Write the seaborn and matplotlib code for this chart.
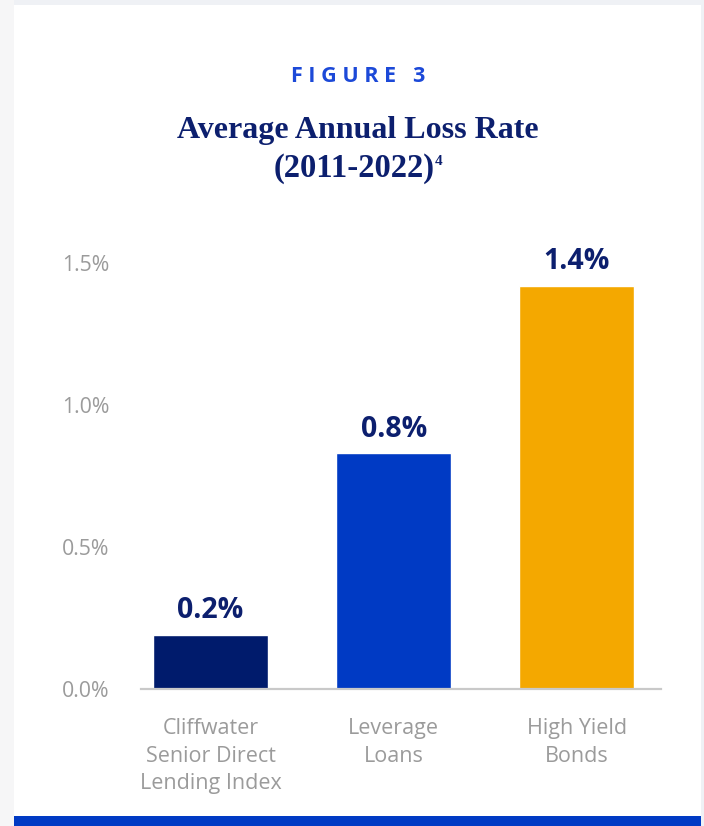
import matplotlib
matplotlib.use("Agg")
import matplotlib.pyplot as plt
from matplotlib.patches import Rectangle
import seaborn as sns
import pandas as pd

# ---- data ----
categories = ["Cliffwater\nSenior Direct\nLending Index", "Leverage\nLoans", "High Yield\nBonds"]
loss_rate = [0.19, 0.83, 1.42]
bar_colors = ["#001b6c", "#003ac4", "#f4a800"]
y_ticks = [0.0, 0.5, 1.0, 1.5]
y_tick_labels = ["0.0%", "0.5%", "1.0%", "1.5%"]
kicker = "F I G U R E   3"
title_line1 = "Average Annual Loss Rate"
title_line2 = "(2011-2022)"
title_note = "4"

df = pd.DataFrame({"category": categories, "rate": loss_rate})

sns.set_theme(style="white")
plt.rcParams["font.family"] = ["Open Sans", "DejaVu Sans"]

W, H = 704, 826
fig = plt.figure(figsize=(W / 100, H / 100), dpi=100)
fig.patch.set_facecolor("#eff1f5")

# card background
fig.patches.append(Rectangle((0, 0), 14 / W, 1, transform=fig.transFigure,
                             facecolor="#f6f6f7", edgecolor="none", zorder=-2))
fig.patches.append(Rectangle((14 / W, 0), (701 - 14) / W, 1 - 5 / H, transform=fig.transFigure,
                             facecolor="white", edgecolor="none", zorder=-2))
fig.patches.append(Rectangle((14 / W, 0), (701 - 14) / W, 10 / H, transform=fig.transFigure,
                             facecolor="#003ac4", edgecolor="none", zorder=-1))

ax = fig.add_axes([141 / W, 1 - 689 / H, (661 - 141) / W, (689 - 263) / H])
ax.set_zorder(2)
ax.set_facecolor("none")

sns.barplot(data=df, x="category", y="rate", hue="category", palette=bar_colors,
            width=0.63, legend=False, ax=ax, saturation=1)

ax.set_xlim(-0.38, 2.46)
ax.set_ylim(0, 1.5)
ax.set_yticks(y_ticks)
ax.set_yticklabels(y_tick_labels)
ax.set_xlabel("")
ax.set_ylabel("")
for s in ["top", "left", "right"]:
    ax.spines[s].set_visible(False)
ax.spines["bottom"].set_color("#c9c9c9")
ax.spines["bottom"].set_linewidth(1.6)
ax.tick_params(axis="y", length=0, pad=23, labelsize=15.3, labelcolor="#9b9b9b")
ax.tick_params(axis="x", length=0, pad=21, labelsize=15.5, labelcolor="#9b9b9b")
for lab in ax.get_xticklabels():
    lab.set_linespacing(1.4)

for i, v in enumerate(loss_rate):
    ax.annotate(f"{v:.1f}%", xy=(i, v), xytext=(0, 12), textcoords="offset points",
                ha="center", va="baseline", fontsize=20.5, fontweight="bold",
                color="#0c1f6e", annotation_clip=False)

# titles
fig.text(358 / W, 1 - 76 / H, kicker, ha="center", va="center", fontsize=15.5,
         fontweight="bold", color="#1c49d8")
fig.text(357.5 / W, 1 - 138 / H, title_line1, ha="center", va="baseline",
         fontsize=23, fontweight="bold", color="#0c1f6e", family="Liberation Serif")
t2 = fig.text(354 / W, 1 - 177 / H, title_line2, ha="center", va="baseline",
              fontsize=23.5, fontweight="bold", color="#0c1f6e", family="Liberation Serif")
fig.add_artist(matplotlib.text.Annotation(
    title_note, xy=(1, 1), xycoords=t2, xytext=(0.5, -1), textcoords="offset points",
    ha="left", va="top", fontsize=11, fontweight="bold", color="#0c1f6e",
    family="Liberation Serif", annotation_clip=False))

fig.savefig("out.png", dpi=100, facecolor=fig.get_facecolor())
